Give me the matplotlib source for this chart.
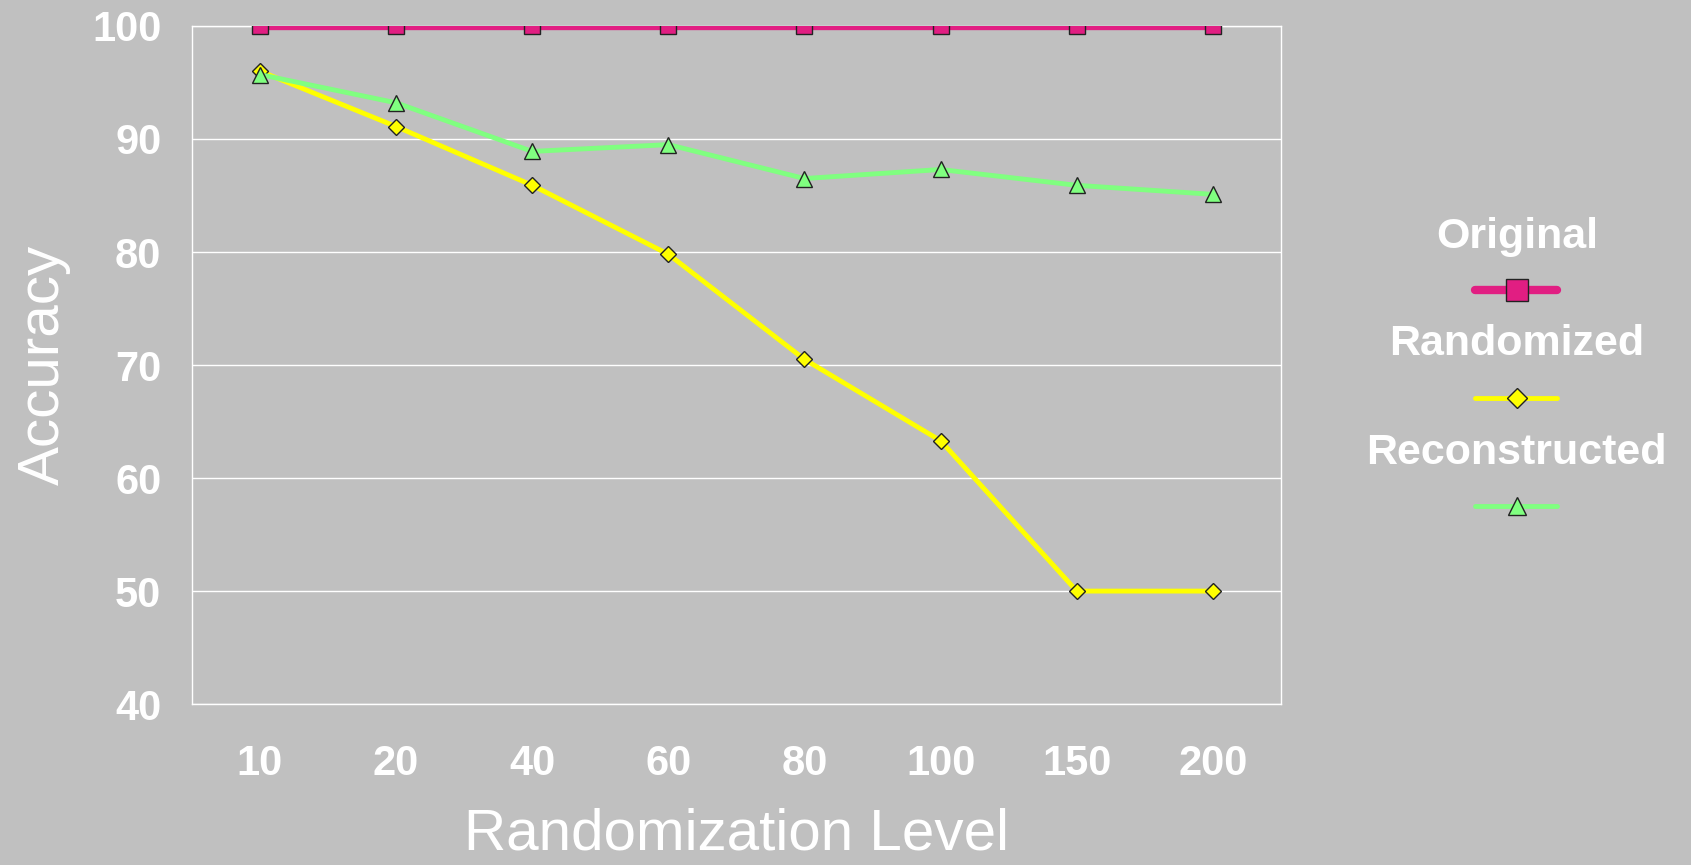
import matplotlib
matplotlib.use('Agg')
import matplotlib.pyplot as plt
from matplotlib.lines import Line2D

plt.rcParams['font.family'] = ['Liberation Sans', 'DejaVu Sans']

levels = ['10', '20', '40', '60', '80', '100', '150', '200']
original = [100, 100, 100, 100, 100, 100, 100, 100]
randomized = [96.0, 91.1, 85.9, 79.8, 70.5, 63.3, 50.0, 50.0]
reconstructed = [95.7, 93.2, 88.9, 89.5, 86.5, 87.3, 85.9, 85.1]

series_names = ['Original', 'Randomized', 'Reconstructed']
bg = '#C0C0C0'

styles = {
    'Original': dict(color='#E11E82', lw=6, marker='s', ms=12, mfc='#E11E82'),
    'Randomized': dict(color='#FFFF00', lw=3.5, marker='D', ms=8, mfc='#FFFF00'),
    'Reconstructed': dict(color='#80FF80', lw=3.5, marker='^', ms=11, mfc='#80FF80'),
}

fig = plt.figure(figsize=(16.91, 8.65), dpi=100, facecolor=bg)
ax = fig.add_axes([0.1135, 0.186, 0.644, 0.784])
ax.set_facecolor(bg)

x = list(range(len(levels)))
for name, vals in zip(series_names, [original, randomized, reconstructed]):
    st = styles[name]
    ax.plot(x, vals, color=st['color'], lw=st['lw'], marker=st['marker'],
            ms=st['ms'], mfc=st['mfc'], mec='#222222', mew=1, zorder=3)

ax.set_xlim(-0.5, len(levels) - 0.5)
ax.set_ylim(40, 100)
ax.set_yticks(range(40, 101, 10))
ax.set_xticks(x)
ax.set_xticklabels(levels)
ax.grid(axis='y', color='white', lw=1)
ax.set_axisbelow(True)
for s in ax.spines.values():
    s.set_color('white')
    s.set_linewidth(1)
ax.tick_params(length=0, colors='white', labelsize=30)
ax.tick_params(axis='y', pad=22)
ax.tick_params(axis='x', pad=29)
for lab in ax.get_xticklabels() + ax.get_yticklabels():
    lab.set_fontweight('bold')

ax.set_xlabel('Randomization Level', fontsize=42, color='white')
ax.set_ylabel('Accuracy', fontsize=42, color='white')
ax.xaxis.set_label_coords(0.5, -0.153)
ax.yaxis.set_label_coords(-0.111, 0.5)

# legend: label above each sample line
text_y = [0.726, 0.602, 0.476]
line_y = [0.665, 0.540, 0.415]
cx, x0, x1 = 0.897, 0.872, 0.921
for name, ty, ly in zip(series_names, text_y, line_y):
    st = styles[name]
    fig.text(cx, ty, name, ha='center', va='center', fontsize=31,
             fontweight='bold', color='white')
    ms = st['ms'] + (4 if name == 'Original' else 2)
    fig.add_artist(Line2D([x0, cx, x1], [ly, ly, ly], transform=fig.transFigure,
                          color=st['color'], lw=st['lw'],
                          solid_capstyle='round',
                          marker=st['marker'], markevery=[1], ms=ms,
                          mfc=st['mfc'], mec='#222222', mew=1))

fig.savefig('out.png', dpi=100, facecolor=bg)
